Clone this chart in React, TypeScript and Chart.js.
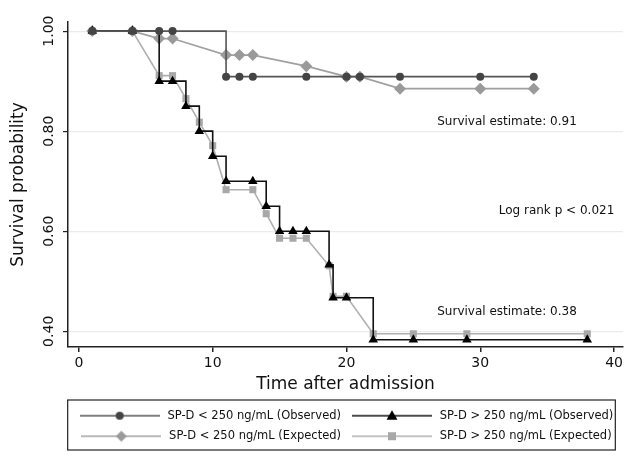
import { useEffect, useRef } from "react";
import { Chart, registerables } from "chart.js";

Chart.register(...registerables);

const seriesNames = [
  "SP-D < 250 ng/mL (Observed)",
  "SP-D > 250 ng/mL (Observed)",
  "SP-D < 250 ng/mL (Expected)",
  "SP-D > 250 ng/mL (Expected)",
];

const lowObsTime = [1, 4, 6, 7, 11, 12, 13, 17, 20, 21, 24, 30, 34];
const lowObsSurv = [1, 1, 1, 1, 0.909, 0.909, 0.909, 0.909, 0.909, 0.909, 0.909, 0.909, 0.909];

const highObsTime = [1, 4, 6, 7, 8, 9, 10, 11, 13, 14, 15, 16, 17, 18.7, 19, 20, 22, 25, 29, 38];
const highObsSurv = [1, 1, 0.9, 0.9, 0.85, 0.8, 0.75, 0.7, 0.7, 0.65, 0.6, 0.6, 0.6, 0.533, 0.467, 0.467, 0.383, 0.383, 0.383, 0.383];

const lowExpTime = [1, 4, 6, 7, 11, 12, 13, 17, 20, 21, 24, 30, 34];
const lowExpSurv = [1, 1, 0.985, 0.985, 0.952, 0.952, 0.952, 0.93, 0.909, 0.909, 0.885, 0.885, 0.885];

const highExpTime = [1, 4, 6, 7, 8, 9, 10, 11, 13, 14, 15, 16, 17, 18.7, 19, 20, 22, 25, 29, 38];
const highExpSurv = [1, 1, 0.911, 0.911, 0.865, 0.818, 0.771, 0.683, 0.683, 0.635, 0.586, 0.586, 0.586, 0.531, 0.47, 0.47, 0.395, 0.395, 0.395, 0.395];

const xTicks = [0, 10, 20, 30, 40];
const yTicks = [0.4, 0.6, 0.8, 1.0];

const xTitle = "Time after admission";
const yTitle = "Survival probability";

const noteTexts = ["Survival estimate: 0.91", "Log rank p < 0.021", "Survival estimate: 0.38"];
const noteX = [32, 35.7, 32];
const noteY = [0.818, 0.64, 0.439];

const FONT = "'DejaVu Sans', sans-serif";

function pairs(xs: number[], ys: number[]) {
  return xs.map((x, i) => ({ x, y: ys[i] }));
}

function makeIcon(kind: string, fill: string, line: string) {
  const c = document.createElement("canvas");
  c.width = 80;
  c.height = 14;
  const g = c.getContext("2d")!;
  g.strokeStyle = line;
  g.lineWidth = 1.6;
  g.beginPath();
  g.moveTo(0, 7);
  g.lineTo(80, 7);
  g.stroke();
  g.fillStyle = fill;
  g.beginPath();
  const cx = 40, cy = 7;
  if (kind === "circle") {
    g.arc(cx, cy, 4, 0, Math.PI * 2);
  } else if (kind === "triangle") {
    g.moveTo(cx, cy - 5.5);
    g.lineTo(cx + 5.5, cy + 4);
    g.lineTo(cx - 5.5, cy + 4);
    g.closePath();
  } else if (kind === "diamond") {
    g.moveTo(cx, cy - 5.5);
    g.lineTo(cx + 5.5, cy);
    g.lineTo(cx, cy + 5.5);
    g.lineTo(cx - 5.5, cy);
    g.closePath();
  } else {
    g.rect(cx - 4, cy - 4, 8, 8);
  }
  g.fill();
  return c;
}

export default function App() {
  const ref = useRef<HTMLCanvasElement>(null);

  useEffect(() => {
    document.body.style.margin = "0";
    const canvas = ref.current!;
    Chart.defaults.font.family = FONT;

    const icons = [
      makeIcon("circle", "#444", "#555"),
      makeIcon("triangle", "#000", "#111"),
      makeIcon("diamond", "#9a9a9a", "#a0a0a0"),
      makeIcon("square", "#a8a8a8", "#b0b0b0"),
    ];

    const notesPlugin = {
      id: "notes",
      afterDatasetsDraw(chart: any) {
        const { ctx, scales } = chart;
        ctx.save();
        ctx.font = `12px ${FONT}`;
        ctx.fillStyle = "#111";
        ctx.textAlign = "center";
        ctx.textBaseline = "middle";
        noteTexts.forEach((t, i) => {
          ctx.fillText(t, scales.x.getPixelForValue(noteX[i]), scales.y.getPixelForValue(noteY[i]));
        });
        ctx.restore();
      },
      afterDraw(chart: any) {
        const boxes = chart.legend?.legendHitBoxes || [];
        if (!boxes.length) return;
        let l = Infinity, r = -Infinity, t = Infinity, b = -Infinity;
        boxes.forEach((h: any) => {
          l = Math.min(l, h.left);
          r = Math.max(r, h.left + h.width);
          t = Math.min(t, h.top);
          b = Math.max(b, h.top + h.height);
        });
        const ctx = chart.ctx;
        ctx.save();
        ctx.strokeStyle = "#222";
        ctx.lineWidth = 1.2;
        ctx.strokeRect(l - 10, t - 10, r - l + 12, b - t + 18);
        ctx.restore();
      },
    };

    const chart = new Chart(canvas, {
      type: "line",
      data: {
        datasets: [
          {
            label: seriesNames[0],
            data: pairs(lowObsTime, lowObsSurv),
            stepped: "before",
            borderColor: "#555",
            borderWidth: 1.6,
            pointStyle: "circle",
            pointRadius: 4,
            pointBackgroundColor: "#444",
            pointBorderColor: "#444",
            pointBorderWidth: 0,
          },
          {
            label: seriesNames[1],
            data: pairs(highObsTime, highObsSurv),
            stepped: "before",
            borderColor: "#111",
            borderWidth: 1.6,
            pointStyle: "triangle",
            pointRadius: 5.5,
            pointBackgroundColor: "#000",
            pointBorderColor: "#000",
            pointBorderWidth: 0,
          },
          {
            label: seriesNames[2],
            data: pairs(lowExpTime, lowExpSurv),
            borderColor: "#a0a0a0",
            borderWidth: 1.6,
            pointStyle: "rectRot",
            pointRadius: 6,
            pointBackgroundColor: "#9a9a9a",
            pointBorderColor: "#9a9a9a",
            pointBorderWidth: 0,
          },
          {
            label: seriesNames[3],
            data: pairs(highExpTime, highExpSurv),
            borderColor: "#b0b0b0",
            borderWidth: 1.6,
            pointStyle: "rect",
            pointRadius: 5,
            pointBackgroundColor: "#a8a8a8",
            pointBorderColor: "#a8a8a8",
            pointBorderWidth: 0,
          },
        ],
      },
      options: {
        responsive: false,
        animation: false,
        layout: { padding: { top: 22, right: 1, bottom: 5, left: 0 } },
        plugins: {
          tooltip: { enabled: false },
          legend: {
            position: "bottom",
            fullSize: false,
            labels: {
              usePointStyle: true,
              pointStyleWidth: 84,
              padding: 9,
              color: "#111",
              font: { size: 11.5, family: FONT },
              generateLabels: (c: any) => {
                const items = Chart.defaults.plugins.legend.labels.generateLabels(c);
                return items.map((it: any, i: number) => ({ ...it, pointStyle: icons[i] }));
              },
            },
          },
        },
        scales: {
          x: {
            type: "linear",
            min: -0.815,
            max: 40.67,
            afterBuildTicks: (s: any) => {
              s.ticks = xTicks.map((v) => ({ value: v }));
            },
            afterFit: (s: any) => {
              s.height = 54;
            },
            grid: { drawOnChartArea: false, tickLength: 5, tickColor: "#222", lineWidth: 1.5 },
            border: { color: "#222", width: 1.5 },
            ticks: { color: "#111", font: { size: 14, family: FONT }, padding: 3, maxRotation: 0 },
            title: {
              display: true,
              text: xTitle,
              color: "#111",
              font: { size: 17, family: FONT },
              padding: { top: 0, bottom: 6 },
            },
          },
          y: {
            type: "linear",
            min: 0.3686,
            max: 1.0182,
            afterBuildTicks: (s: any) => {
              s.ticks = yTicks.map((v) => ({ value: v }));
            },
            afterFit: (s: any) => {
              s.width = 68;
            },
            grid: { color: "#ebebeb", lineWidth: 1.2, tickColor: "#222", tickLength: 5 },
            border: { color: "#222", width: 1.5 },
            ticks: {
              color: "#111",
              font: { size: 14, family: FONT },
              minRotation: 90,
              maxRotation: 90,
              crossAlign: "center",
              padding: -2,
              callback: (v: any) => Number(v).toFixed(2),
            },
            title: {
              display: true,
              text: yTitle,
              color: "#111",
              font: { size: 17, family: FONT },
              padding: { top: 8, bottom: 0 },
            },
          },
        },
      } as any,
      plugins: [notesPlugin],
    });

    return () => chart.destroy();
  }, []);

  return (
    <div style={{ width: 629, height: 457 }}>
      <canvas ref={ref} width={629} height={457} style={{ display: "block" }} />
    </div>
  );
}
